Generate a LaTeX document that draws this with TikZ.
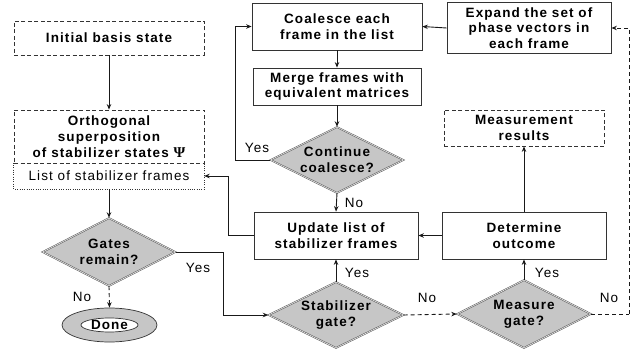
\documentclass[tikz,border=0pt]{standalone}
\usepackage{fontspec}
\setmainfont{Liberation Sans}[LetterSpace=8]
\newfontfamily\psifont{Liberation Serif}
\usetikzlibrary{shapes.geometric,arrows.meta,calc}
\begin{document}
\begin{tikzpicture}[x=1pt,y=-1pt,
  txt/.style={font=\fontsize{13.5}{15.7}\selectfont},
  box/.style={draw=black!80, line width=0.8pt, align=center, inner sep=0pt,
    font=\bfseries\fontsize{13.5}{15.7}\selectfont},
  dbox/.style={box, dash pattern=on 4pt off 2.5pt},
  dec/.style={diamond, shape aspect=2, draw=black!70, line width=0.45pt,
    double=gray!20, double distance=0.7pt, fill=gray!45, align=center, inner sep=0pt,
    font=\bfseries\fontsize{13.5}{15.7}\selectfont},
  lbl/.style={font=\fontsize{13.5}{15}\selectfont, inner sep=0pt},
  arr/.style={-{Stealth[length=5.5pt,width=4.5pt,inset=1.8pt]}, line width=0.9pt, black!90},
  darr/.style={arr, dash pattern=on 4pt off 3pt},
  dln/.style={line width=0.9pt, black!90, dash pattern=on 4pt off 3pt},
  ln/.style={line width=0.9pt, black!90},
]
\useasboundingbox (0,0) rectangle (637,350);

% left column
\node[dbox, minimum width=190, minimum height=34] (init) at (109,38) {Initial basis state};
\node[draw=none, minimum width=190, minimum height=26, inner sep=0pt, txt] (list) at (109,176) {List of stabilizer frames};
\draw[line width=0.8pt, black!80, dash pattern=on 1pt off 1.3pt] (list.north west) |- (list.south east) -- (list.north east);
\node[dbox, minimum width=190, minimum height=53, fill=white] (ortho) at (109,136.5) {Orthogonal\\superposition\\of stabilizer states {\psifont\fontsize{15}{15}\selectfont Ψ}};
\node[dec, minimum width=133, minimum height=68] (gates) at (109,252) {Gates\\remain?};
\node[ellipse, draw=black!80, line width=0.7pt, fill=gray!45, minimum width=95, minimum height=34, inner sep=0pt] (done) at (109.5,325) {};
\node[ellipse, draw=black!80, line width=0.7pt, fill=white, minimum width=57, minimum height=14, inner sep=0pt,
  text height=9.3pt, text depth=0pt, font=\bfseries\fontsize{13.5}{15}\selectfont] (donein) at (109.5,325) {Done};

% middle column
\node[box, minimum width=170, minimum height=47] (coal) at (337,26.5) {Coalesce each\\frame in the list};
\node[box, minimum width=168, minimum height=37] (merge) at (337,86.5) {Merge frames with\\equivalent matrices};
\node[dec, minimum width=133, minimum height=66] (cont) at (337,160) {Continue\\coalesce?};
\node[box, minimum width=164, minimum height=47] (update) at (336,235.5) {Update list of\\stabilizer frames};
\node[dec, minimum width=135, minimum height=66] (stab) at (336,315) {Stabilizer\\gate?};

% right column
\node[box, minimum width=164, minimum height=51] (expand) at (529,28) {Expand the set of\\phase vectors in\\each frame};
\node[dbox, minimum width=160, minimum height=36] (mres) at (524,128) {Measurement\\results};
\node[box, minimum width=164, minimum height=47] (det) at (524,235.5) {Determine\\outcome};
\node[dec, minimum width=134, minimum height=68] (meas) at (524,314) {Measure\\gate?};

% helper coordinates
\coordinate (g1) at (223,252);
\coordinate (u1) at (228,235.5);
\coordinate (c1) at (235,160);
\coordinate (m1) at (629,314);

% connectors
\draw[arr] (init) -- (ortho);
\draw[arr] (list) -- (gates);
\draw[ln] (gates.east) -- (g1);
\draw[arr] (g1) |- (stab.west);
\draw[darr] (gates.south) -- (done.north);
\draw[arr] (coal) -- (merge);
\draw[arr] (merge) -- (cont);
\draw[ln] (cont.west) -- (c1);
\draw[arr] (c1) |- (coal.west);
\draw[arr] (cont.south) -- (update.north);
\draw[ln] (update.west) -- (u1);
\draw[arr] (u1) |- (list.east);
\draw[arr] (stab.north) -- (update.south);
\draw[darr] (stab.east) -- (meas.west);
\draw[arr] (meas.north) -- (det.south);
\draw[arr] (det.west) -- (update.east);
\draw[arr] (det.north) -- (mres.south);
\draw[dln] (meas.east) -- (m1);
\draw[darr] (m1) |- (expand.east);
\draw[arr] (expand.west) -- (coal.east);

% labels
\node[lbl] (y1) at (198,268) {Yes};
\node[lbl] (n1) at (82,297) {No};
\node[lbl] (y2) at (257,148) {Yes};
\node[lbl] (n2) at (354,203) {No};
\node[lbl] (y3) at (357,273) {Yes};
\node[lbl] (n3) at (427,298) {No};
\node[lbl] (y4) at (547,273) {Yes};
\node[lbl] (n4) at (609,298) {No};
\end{tikzpicture}
\end{document}
